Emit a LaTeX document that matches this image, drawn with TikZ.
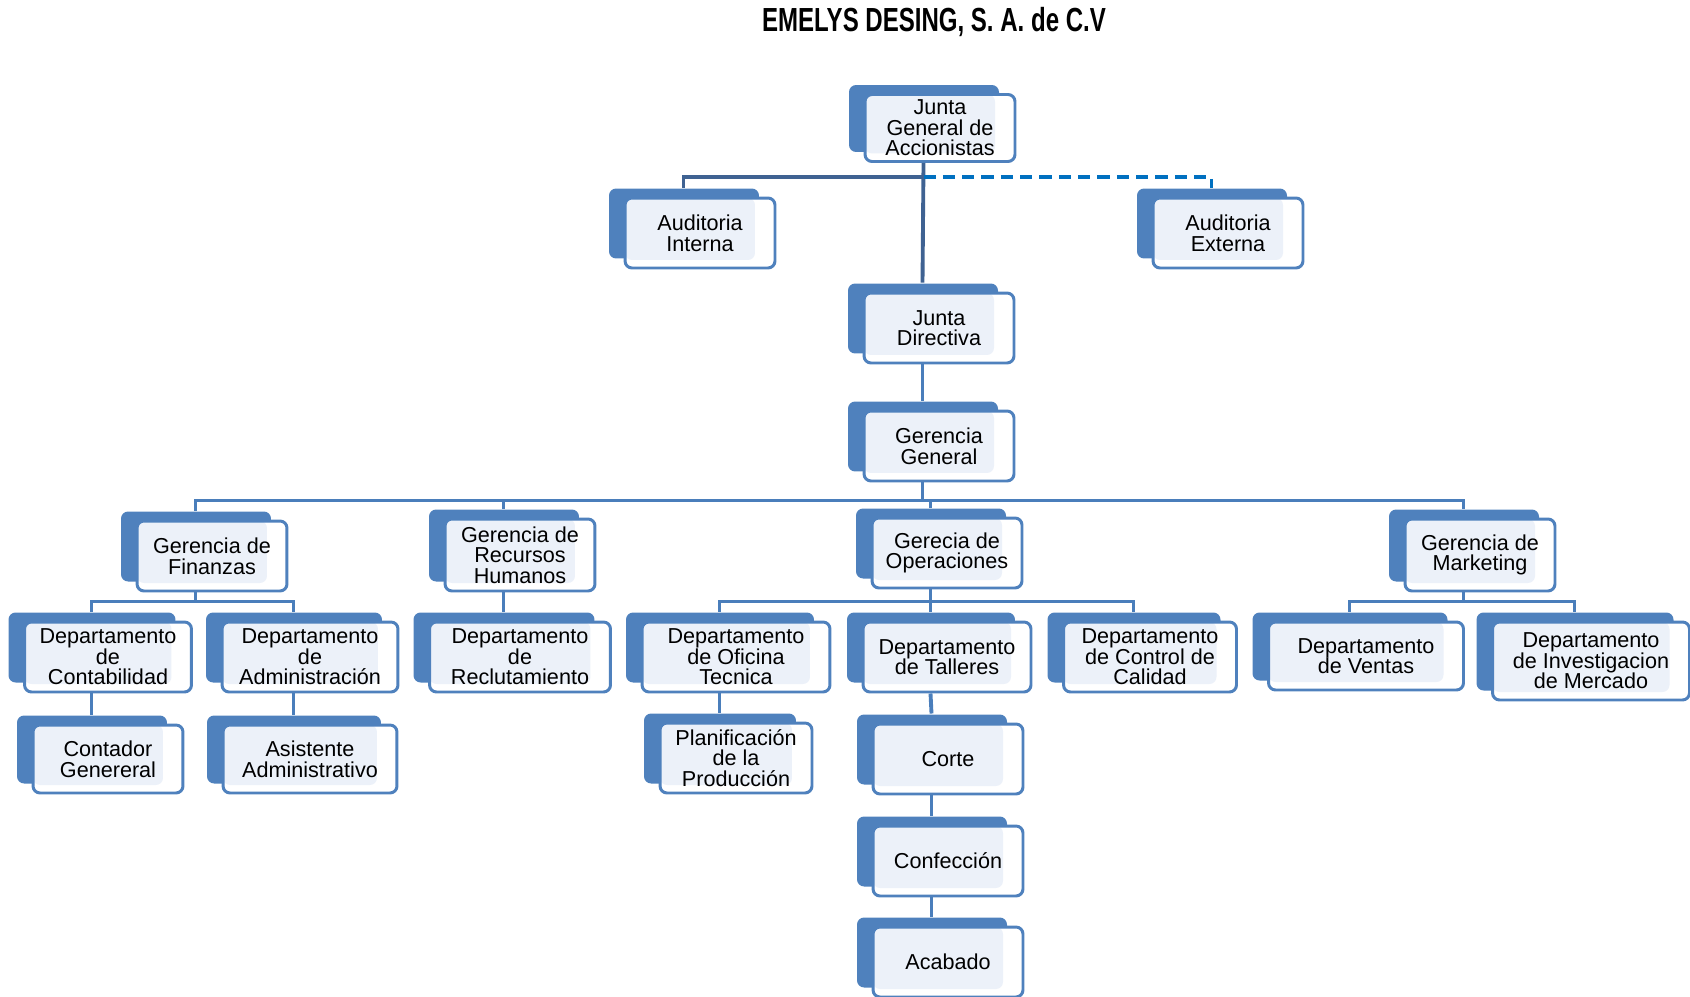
\documentclass[tikz,border=0pt]{standalone}
\usepackage{fontspec}
\setmainfont{Liberation Sans}
\newfontfamily\titlefont[FakeStretch=0.72]{Liberation Sans Bold}
\usetikzlibrary{shadows,calc}
\definecolor{boxblue}{RGB}{79,129,189}
\definecolor{boxlight}{RGB}{236,241,249}
\definecolor{linkblue}{RGB}{74,126,187}
\definecolor{trunkblue}{RGB}{63,98,146}
\definecolor{dashblue}{RGB}{0,112,192}
% anchors on the back shape of a box
\newcommand\dn[1]{([xshift=-0.33cm]#1.south)}
\newcommand\up[1]{([xshift=-0.33cm,yshift=0.18cm]#1.north)}

\begin{document}
\begin{tikzpicture}[x=0.02cm, y=-0.02cm]
  \tikzset{
    orgbox/.style={rectangle,rounded corners=4pt,draw=boxblue,line width=1.7pt,
                   fill=white,align=center,inner sep=2pt,
                   minimum width=3cm,minimum height=1.4cm,
                   font=\fontsize{12.3}{11.7}\selectfont,
                   general shadow={fill=boxblue,shadow xshift=-0.32cm,
                                   shadow yshift=0.19cm},
                   path picture={\fill[boxlight] (path picture bounding box.north west)
                     rectangle ([xshift=-0.4cm,yshift=0.16cm]path picture bounding box.south east);}},
    link/.style={draw=linkblue,line width=2.2pt},
    trunk/.style={draw=trunkblue,line width=2.2pt},
    dashlink/.style={draw=dashblue,line width=2.2pt,dash pattern=on 7pt off 4pt}
  }
  \useasboundingbox (0,0) rectangle (1690,997);
  \node[font=\titlefont\fontsize{19}{22}\selectfont] (title) at (934,22) {EMELYS DESING, S. A. de C.V};

  % top levels
  \node[orgbox,minimum height=1.34cm] (jg) at (940,128) {Junta\\General de\\Accionistas};
  \node[orgbox] (ai) at (700,233) {Auditoria\\Interna};
  \node[orgbox] (ae) at (1228,233) {Auditoria\\Externa};
  \node[orgbox] (jd) at (939,328) {Junta\\Directiva};
  \node[orgbox] (gg) at (939,446) {Gerencia\\General};

  % gerencias
  \node[orgbox] (gf) at (212,556) {Gerencia de\\Finanzas};
  \node[orgbox,minimum height=1.44cm] (grh) at (520,555) {Gerencia de\\Recursos\\Humanos};
  \node[orgbox] (go) at (947,553) {Gerecia de\\Operaciones};
  \node[orgbox,minimum height=1.44cm] (gm) at (1480,555) {Gerencia de\\Marketing};

  % departamentos
  \node[orgbox,minimum width=3.34cm] (dc) at (108,657) {Departamento\\de\\Contabilidad};
  \node[orgbox,minimum width=3.52cm] (da) at (310,657) {Departamento\\de\\Administración};
  \node[orgbox,minimum width=3.62cm] (dr) at (520,657) {Departamento\\de\\Reclutamiento};
  \node[orgbox,minimum width=3.76cm] (dot) at (736,657) {Departamento\\de Oficina\\Tecnica};
  \node[orgbox,minimum width=3.36cm] (dt) at (947,657) {Departamento\\de Talleres};
  \node[orgbox,minimum width=3.46cm] (dcc) at (1150,657) {Departamento\\de Control de\\Calidad};
  \node[orgbox,minimum width=3.9cm,minimum height=1.36cm] (dv) at (1366,656) {Departamento\\de Ventas};
  \node[orgbox,minimum width=3.94cm,minimum height=1.56cm] (dim) at (1591,661) {Departamento\\de Investigacion\\de Mercado};

  % last level
  \node[orgbox,minimum height=1.36cm] (cg) at (108,759) {Contador\\Genereral};
  \node[orgbox,minimum width=3.48cm,minimum height=1.36cm] (aa) at (310,759) {Asistente\\Administrativo};
  \node[orgbox,minimum width=3.04cm] (pp) at (736,758) {Planificación\\de la\\Producción};
  \node[orgbox] (co) at (948,759) {Corte};
  \node[orgbox] (cf) at (948,861) {Confección};
  \node[orgbox] (ac) at (948,962) {Acabado};

  % connectors
  \draw[trunk] \dn{jg} -- \up{jd};
  \draw[trunk] \dn{jg} -- ++(0,14) -| \up{ai};
  \draw[dashlink] \dn{jg} ++(0,14) -| \up{ae};
  \draw[link] \dn{jd} -- \up{gg};
  \foreach \g in {gf,grh,go,gm}
    \draw[link] \dn{gg} -- ++(0,18) -| \up{\g};
  \foreach \d in {dc,da}
    \draw[link] \dn{gf} -- ++(0,9) -| \up{\d};
  \draw[link] \dn{grh} -- \up{dr};
  \foreach \d in {dot,dt,dcc}
    \draw[link] \dn{go} -- ++(0,12) -| \up{\d};
  \foreach \d in {dv,dim}
    \draw[link] \dn{gm} -- ++(0,9) -| \up{\d};
  \draw[link] \dn{dc} -- \up{cg};
  \draw[link] \dn{da} -- \up{aa};
  \draw[link] \dn{dot} -- \up{pp};
  \draw[link] \dn{dt} -- \up{co};
  \draw[link] \dn{co} -- \up{cf};
  \draw[link] \dn{cf} -- \up{ac};
\end{tikzpicture}
\end{document}
